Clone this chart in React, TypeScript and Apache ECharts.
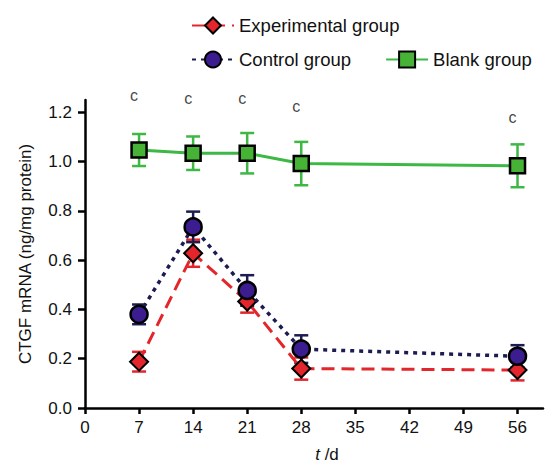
import React, { useEffect, useRef } from "react";
import * as echarts from "echarts";

const days = [7, 14, 21, 28, 56];
const xTicks = [0, 7, 14, 21, 28, 35, 42, 49, 56];
const yTicks = [0, 0.2, 0.4, 0.6, 0.8, 1.0, 1.2];

const experimental = [0.188, 0.628, 0.432, 0.16, 0.154];
const experimentalSd = [0.04, 0.055, 0.045, 0.045, 0.042];

const control = [0.38, 0.735, 0.477, 0.239, 0.21];
const controlSd = [0.04, 0.062, 0.062, 0.056, 0.045];

const blank = [1.047, 1.034, 1.034, 0.992, 0.983];
const blankSd = [0.065, 0.068, 0.082, 0.088, 0.087];

const sigLabel = "c";
const sigY = [1.27, 1.255, 1.255, 1.225, 1.18];

const FONT = "Liberation Sans, Arial, sans-serif";
const RED = "#e3262b";
const NAVY = "#1c1c52";
const PURPLE = "#3b1d8f";
const GREEN = "#3db845";
const GREEN_FILL = "#47b336";

function errSeries(name: string, vals: number[], sd: number[], color: string) {
  return {
    type: "custom",
    name: name + " err",
    z: 1,
    encode: { x: 0, y: 1 },
    data: days.map((d, i) => [d, vals[i], sd[i]]),
    renderItem: (params: any, api: any) => {
      const x = api.value(0);
      const y = api.value(1);
      const s = api.value(2);
      const top = api.coord([x, y + s]);
      const bot = api.coord([x, y - s]);
      const w = 7;
      const style = { stroke: color, lineWidth: 2.5 };
      return {
        type: "group",
        children: [
          { type: "line", shape: { x1: top[0], y1: top[1], x2: bot[0], y2: bot[1] }, style },
          { type: "line", shape: { x1: top[0] - w, y1: top[1], x2: top[0] + w, y2: top[1] }, style },
          { type: "line", shape: { x1: bot[0] - w, y1: bot[1], x2: bot[0] + w, y2: bot[1] }, style },
        ],
      };
    },
  };
}

export default function App() {
  const ref = useRef<HTMLDivElement>(null);
  useEffect(() => {
    if (!ref.current) return;
    const chart = echarts.init(ref.current, undefined, { renderer: "svg" });
    const legendText = { fontSize: 18.5, color: "#111", fontFamily: FONT };
    chart.setOption({
      animation: false,
      backgroundColor: "#ffffff",
      textStyle: { fontFamily: FONT },
      grid: { left: 85, right: 6, top: 100, bottom: 56, containLabel: false, outerBoundsMode: "none" },
      legend: [
        {
          data: ["Experimental group"],
          left: 186,
          top: 11,
          itemWidth: 42,
          itemHeight: 20,
          itemGap: 10,
          textStyle: legendText,
          selectedMode: false,
        },
        {
          data: ["Control group", "Blank group"],
          left: 186,
          top: 45,
          itemWidth: 42,
          itemHeight: 20,
          itemGap: 34,
          textStyle: legendText,
          selectedMode: false,
        },
      ],
      xAxis: {
        type: "value",
        min: 0,
        max: 59.3,
        interval: 7,
        name: "{i|t} /d",
        nameLocation: "middle",
        nameGap: 38,
        nameTextStyle: {
          fontSize: 17,
          color: "#111",
          fontFamily: FONT,
          padding: [0, 0, 0, 26],
          rich: { i: { fontStyle: "italic", fontSize: 17, fontFamily: FONT, color: "#111" } },
        },
        axisLine: { show: true, onZero: false, lineStyle: { color: "#000", width: 2.5 } },
        axisTick: { show: true, inside: false, length: 6, customValues: xTicks, lineStyle: { color: "#000", width: 2.5 } },
        axisLabel: { customValues: xTicks, fontSize: 17, color: "#111", margin: 11, fontFamily: FONT },
        splitLine: { show: false },
      },
      yAxis: {
        type: "value",
        min: 0,
        max: 1.25,
        interval: 0.2,
        name: "CTGF mRNA (ng/mg protein)",
        nameLocation: "middle",
        nameGap: 51,
        nameTextStyle: { fontSize: 17, color: "#111", fontFamily: FONT },
        axisLine: { show: true, onZero: false, lineStyle: { color: "#000", width: 2.5 } },
        axisTick: { show: true, inside: false, length: 7, customValues: yTicks, lineStyle: { color: "#000", width: 2.5 } },
        axisLabel: {
          customValues: yTicks,
          fontSize: 17,
          color: "#111",
          margin: 13,
          fontFamily: FONT,
          formatter: (v: number) => v.toFixed(1),
        },
        splitLine: { show: false },
      },
      series: [
        errSeries("Blank group", blank, blankSd, GREEN),
        errSeries("Experimental group", experimental, experimentalSd, RED),
        errSeries("Control group", control, controlSd, NAVY),
        {
          type: "line",
          name: "Blank group",
          z: 3,
          data: days.map((d, i) => [d, blank[i]]),
          symbol: "rect",
          symbolSize: 15,
          lineStyle: { color: GREEN, width: 3 },
          itemStyle: { color: GREEN_FILL, borderColor: "#000", borderWidth: 2.5 },
        },
        {
          type: "line",
          name: "Experimental group",
          z: 4,
          data: days.map((d, i) => [d, experimental[i]]),
          symbol: "diamond",
          symbolSize: 18,
          lineStyle: { color: RED, width: 3, type: [13, 7] },
          itemStyle: { color: RED, borderColor: "#000", borderWidth: 2 },
        },
        {
          type: "line",
          name: "Control group",
          z: 5,
          data: days.map((d, i) => [d, control[i]]),
          symbol: "circle",
          symbolSize: 17,
          lineStyle: { color: NAVY, width: 3.5, type: [4, 5] },
          itemStyle: { color: PURPLE, borderColor: "#000", borderWidth: 2.5 },
        },
        {
          type: "scatter",
          name: "significance",
          z: 6,
          clip: false,
          symbolSize: 0,
          data: days.map((d, i) => [d, sigY[i]]),
          label: {
            show: true,
            position: "inside",
            offset: [-5, 0],
            formatter: () => sigLabel,
            fontSize: 16,
            color: "#111",
            fontFamily: FONT,
          },
        },
      ],
    });
    return () => chart.dispose();
  }, []);
  return <div ref={ref} style={{ width: 549, height: 464, position: "absolute", left: 0, top: 0 }} />;
}
